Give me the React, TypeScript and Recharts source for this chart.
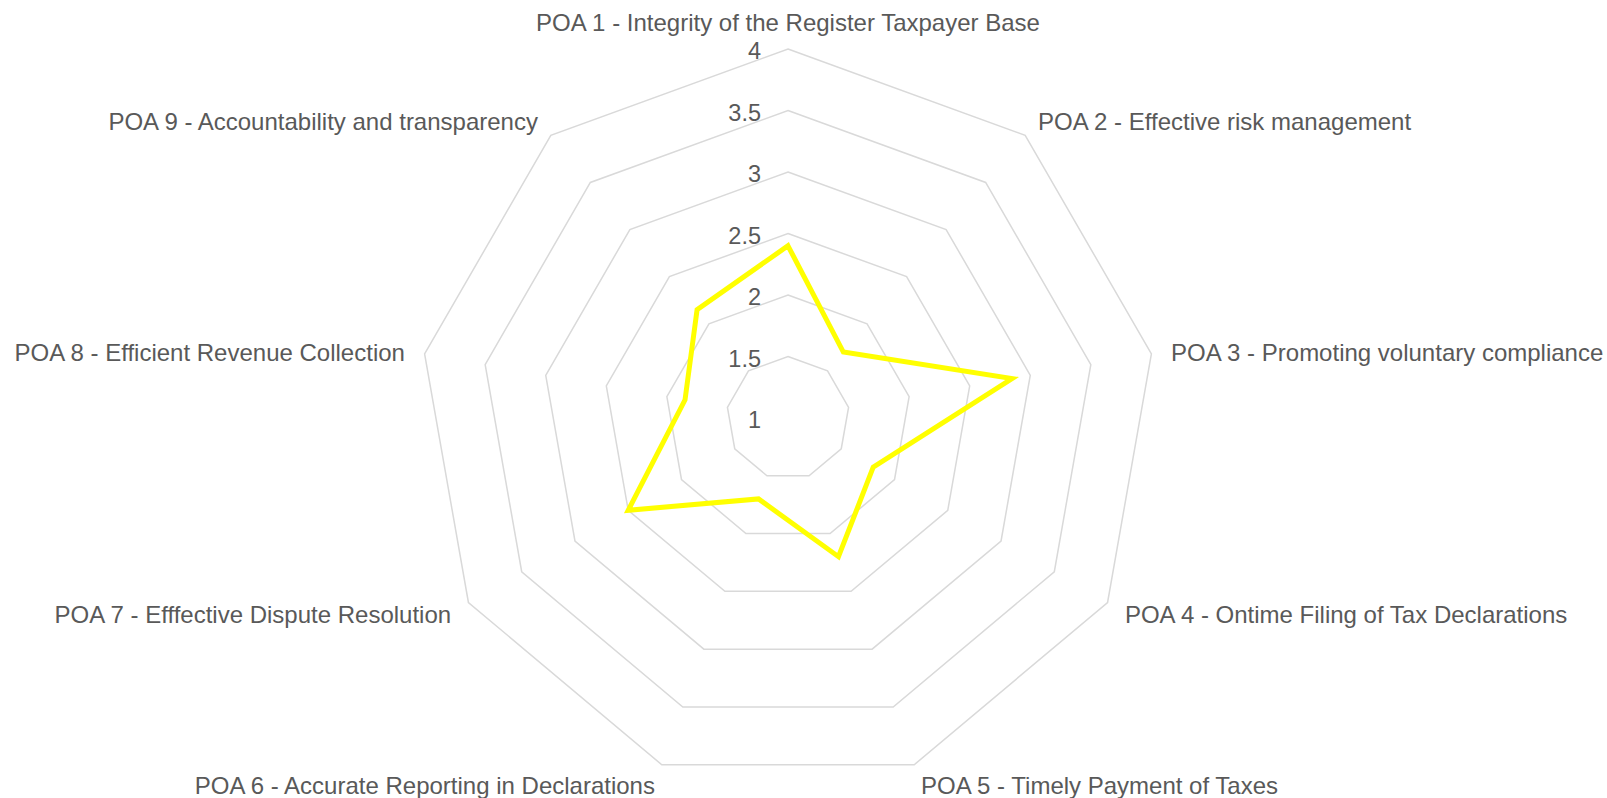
import React from 'react';
import { RadarChart, Radar, PolarGrid, PolarAngleAxis, PolarRadiusAxis } from 'recharts';

const categories = [
  'POA 1 - Integrity of the Register Taxpayer Base',
  'POA 2 - Effective risk management',
  'POA 3 - Promoting voluntary compliance',
  'POA 4 - Ontime Filing of Tax Declarations',
  'POA 5 - Timely Payment of Taxes',
  'POA 6 - Accurate Reporting in Declarations',
  'POA 7 - Efffective Dispute Resolution',
  'POA 8 - Efficient Revenue Collection',
  'POA 9 - Accountability and transparency',
];
const scores = [2.4, 1.7, 2.85, 1.8, 2.2, 1.7, 2.5, 1.85, 2.15];
const radiusTicks = [1, 1.5, 2, 2.5, 3, 3.5, 4];

const data = categories.map((poa, i) => ({ poa, score: scores[i] }));

const CX = 788;
const CY = 418;
const R = 369;
const FONT = '"Liberation Sans", Arial, sans-serif';
const TEXT = '#595959';

// category labels sit a little outside the outer ring
const AngleTick = (props: any) => {
  const { payload } = props;
  const a = (payload.coordinate * Math.PI) / 180;
  const cos = Math.cos(a);
  const sin = Math.sin(a);
  const d = R + 20;
  const x = CX + d * cos;
  const y = CY - d * sin;
  let anchor: 'start' | 'middle' | 'end' = 'middle';
  if (cos > 0.1) anchor = 'start';
  else if (cos < -0.1) anchor = 'end';
  const top = anchor === 'middle' && sin > 0;
  return (
    <text
      x={x}
      y={y + 2}
      dy={top ? 0 : '0.35em'}
      textAnchor={anchor}
      fill={TEXT}
      fontSize={24}
      fontFamily={FONT}
    >
      {payload.value}
    </text>
  );
};

const RadiusTick = (props: any) => {
  const { x, y, payload } = props;
  return (
    <text x={x - 27} y={y + 2} dy="0.35em" textAnchor="end" fill={TEXT} fontSize={23.5} fontFamily={FONT}>
      {payload.value}
    </text>
  );
};

export default function App() {
  return (
    <div style={{ position: 'absolute', left: 0, top: 0, background: '#fff' }}>
      <RadarChart
        width={1607}
        height={798}
        data={data}
        cx={CX}
        cy={CY}
        outerRadius={R}
        margin={{ top: 0, right: 0, bottom: 0, left: 0 }}
      >
        <PolarGrid gridType="polygon" radialLines={false} stroke="#d9d9d9" strokeWidth={1.5} />
        <PolarAngleAxis dataKey="poa" tick={<AngleTick />} tickLine={false} axisLine={false} />
        <PolarRadiusAxis
          angle={90}
          type="number"
          domain={[1, 4]}
          ticks={radiusTicks}
          axisLine={false}
          tickLine={false}
          tick={<RadiusTick />}
        />
        <Radar
          dataKey="score"
          stroke="#ffff00"
          strokeWidth={5}
          fill="none"
          fillOpacity={0}
          dot={false}
          isAnimationActive={false}
        />
      </RadarChart>
    </div>
  );
}
